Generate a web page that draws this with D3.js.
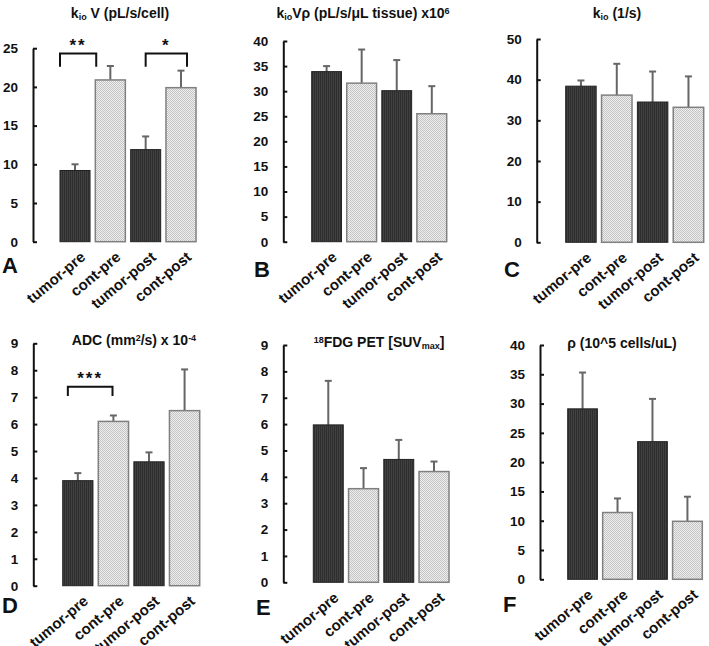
<!DOCTYPE html>
<html lang="en">
<head>
<meta charset="utf-8">
<title>Panels A-F</title>
<script src="https://cdn.jsdelivr.net/npm/d3@7"></script>
<style>
  body { margin: 0; background: #fff; }
  svg text { font-family: "Liberation Sans", Arial, sans-serif; font-weight: bold; fill: #111; }
  .axis path, .axis line { stroke: #111; stroke-width: 2; }
  .axis text { font-size: 13.5px; }
  .xlab { font-size: 15px; }
  .title { font-size: 14px; }
  .letter { font-size: 22px; }
</style>
</head>
<body>
<svg id="fig" width="709" height="646"></svg>
<script>
// data
var categories = ["tumor-pre", "cont-pre", "tumor-post", "cont-post"];

var kioV      = [9.2, 20.9, 11.9, 19.9];
var kioVErr   = [0.8, 1.8, 1.7, 2.2];
var kioVrho   = [33.9, 31.6, 30.1, 25.5];
var kioVrhoErr= [1.1, 6.7, 6.1, 5.5];
var kio       = [38.4, 36.2, 34.5, 33.2];
var kioErr    = [1.4, 7.7, 7.5, 7.6];
var adc       = [3.9, 6.1, 4.6, 6.5];
var adcErr    = [0.28, 0.22, 0.35, 1.53];
var fdg       = [5.97, 3.55, 4.66, 4.2];
var fdgErr    = [1.67, 0.78, 0.74, 0.38];
var rho       = [29.1, 11.4, 23.5, 9.9];
var rhoErr    = [6.2, 2.4, 7.3, 4.2];

var yTicksA = [0, 5, 10, 15, 20, 25];
var yTicksB = [0, 5, 10, 15, 20, 25, 30, 35, 40];
var yTicksC = [0, 10, 20, 30, 40, 50];
var yTicksD = [0, 1, 2, 3, 4, 5, 6, 7, 8, 9];
var yTicksE = [0, 1, 2, 3, 4, 5, 6, 7, 8, 9];
var yTicksF = [0, 5, 10, 15, 20, 25, 30, 35, 40];

var svg = d3.select("#fig");

// bar fills
var defs = svg.append("defs");
var pd = defs.append("pattern").attr("id", "dark").attr("width", 2).attr("height", 2).attr("patternUnits", "userSpaceOnUse");
pd.append("rect").attr("width", 2).attr("height", 2).attr("fill", "#414141");
pd.append("rect").attr("width", 1).attr("height", 2).attr("fill", "#2e2e2e");
var pl = defs.append("pattern").attr("id", "light").attr("width", 2).attr("height", 2).attr("patternUnits", "userSpaceOnUse");
pl.append("rect").attr("width", 2).attr("height", 2).attr("fill", "#eeeeee");
pl.append("rect").attr("width", 1).attr("height", 1).attr("fill", "#c4c4c4");
pl.append("rect").attr("x", 1).attr("y", 1).attr("width", 1).attr("height", 1).attr("fill", "#c4c4c4");

function panel(cfg) {
  var g = svg.append("g");
  var x = d3.scaleBand().domain(categories).range(cfg.bars).paddingInner(0.15).paddingOuter(0);
  var y = d3.scaleLinear().domain([0, cfg.ticks[cfg.ticks.length - 1]]).range([cfg.y0, cfg.y1]);
  var rows = categories.map(function(c, i) { return { cat: c, v: cfg.vals[i], e: cfg.errs[i], i: i }; });

  // error bars (upper only) behind bars
  g.selectAll(".err").data(rows).enter().append("line")
    .attr("x1", function(d) { return x(d.cat) + x.bandwidth() / 2; })
    .attr("x2", function(d) { return x(d.cat) + x.bandwidth() / 2; })
    .attr("y1", function(d) { return y(d.v); })
    .attr("y2", function(d) { return y(d.v + d.e); })
    .attr("stroke", "#666").attr("stroke-width", 2);
  g.selectAll(".cap").data(rows).enter().append("line")
    .attr("x1", function(d) { return x(d.cat) + x.bandwidth() / 2 - 3.5; })
    .attr("x2", function(d) { return x(d.cat) + x.bandwidth() / 2 + 3.5; })
    .attr("y1", function(d) { return y(d.v + d.e); })
    .attr("y2", function(d) { return y(d.v + d.e); })
    .attr("stroke", "#666").attr("stroke-width", 2);

  g.selectAll(".bar").data(rows).enter().append("rect")
    .attr("x", function(d) { return x(d.cat); })
    .attr("y", function(d) { return y(d.v); })
    .attr("width", x.bandwidth())
    .attr("height", function(d) { return y(0) - y(d.v); })
    .attr("fill", function(d) { return d.i % 2 ? "url(#light)" : "url(#dark)"; })
    .attr("stroke", function(d) { return d.i % 2 ? "#808080" : "#222"; })
    .attr("stroke-width", function(d) { return d.i % 2 ? 1.5 : 1; });

  g.append("g").attr("class", "axis")
    .attr("transform", "translate(" + cfg.ax + ",0)")
    .call(d3.axisLeft(y).tickValues(cfg.ticks).tickSizeInner(-4).tickSizeOuter(0).tickPadding(15));
  g.select(".axis .domain").attr("stroke-width", 2.2);

  g.selectAll(".xlab").data(rows).enter().append("text")
    .attr("class", "xlab")
    .attr("text-anchor", "end")
    .attr("transform", function(d) {
      return "translate(" + (x(d.cat) + x.bandwidth() / 2 + 8) + "," + (cfg.y0 + 13) + ") rotate(-40)";
    })
    .attr("dy", "0.35em")
    .text(function(d) { return d.cat; });

  (cfg.brackets || []).forEach(function(b) {
    var xa = x(categories[b.a]) + x.bandwidth() * b.oa;
    var xb = x(categories[b.b]) + x.bandwidth() * b.ob;
    g.append("path")
      .attr("d", "M" + xa + "," + y(b.low) + "V" + y(b.high) + "H" + xb + "V" + y(b.low))
      .attr("fill", "none").attr("stroke", "#111").attr("stroke-width", 2);
    g.append("text").attr("x", (xa + xb) / 2).attr("y", y(b.high) - 3)
      .attr("text-anchor", "middle").style("font-size", "17px").style("letter-spacing", "2px")
      .text(b.label);
  });

  var t = g.append("text").attr("class", "title").attr("x", cfg.tx).attr("y", cfg.ty).attr("text-anchor", "middle");
  cfg.title.forEach(function(p) {
    var s = t.append("tspan").text(p[0]);
    if (p[1] === "sub") s.attr("baseline-shift", "-25%").style("font-size", "9px");
    if (p[1] === "sup") s.attr("baseline-shift", "40%").style("font-size", "9px");
  });

  g.append("text").attr("class", "letter").attr("x", cfg.lx).attr("y", cfg.ly).text(cfg.letter);
}

panel({ vals: kioV, errs: kioVErr, ticks: yTicksA, ax: 33, y0: 241.7, y1: 48.2, bars: [60, 196],
  title: [["k"], ["io", "sub"], [" V (pL/s/cell)"]], tx: 120, ty: 18, letter: "A", lx: 2, ly: 273,
  brackets: [{ a: 0, b: 1, oa: 0, ob: 0.03, low: 22.6, high: 24.3, label: "**" },
             { a: 2, b: 3, oa: 0.5, ob: 0.7, low: 22.6, high: 24.3, label: "*" }] });
panel({ vals: kioVrho, errs: kioVrhoErr, ticks: yTicksB, ax: 283.3, y0: 241.7, y1: 41, bars: [311.7, 446.7],
  title: [["k"], ["io", "sub"], ["V\u03c1 (pL/s/\u03bcL tissue) x10"], ["6", "sup"]], tx: 363, ty: 18, letter: "B", lx: 254, ly: 277 });
panel({ vals: kio, errs: kioErr, ticks: yTicksC, ax: 536.7, y0: 242.3, y1: 39, bars: [565.7, 703.7],
  title: [["k"], ["io", "sub"], [" (1/s)"]], tx: 617, ty: 18, letter: "C", lx: 504, ly: 277 });
panel({ vals: adc, errs: adcErr, ticks: yTicksD, ax: 33.3, y0: 585.7, y1: 343.3, bars: [62.7, 199.7],
  title: [["ADC (mm"], ["2", "sup"], ["/s) x 10"], ["-4", "sup"]], tx: 134, ty: 345, letter: "D", lx: 2, ly: 613,
  brackets: [{ a: 0, b: 1, oa: 0.17, ob: 0.47, low: 7.04, high: 7.39, label: "***" }] });
panel({ vals: fdg, errs: fdgErr, ticks: yTicksE, ax: 283.3, y0: 582.3, y1: 345, bars: [313.3, 449],
  title: [["18", "sup"], ["FDG PET [SUV"], ["max", "sub"], ["]"]], tx: 379, ty: 347, letter: "E", lx: 256, ly: 615 });
panel({ vals: rho, errs: rhoErr, ticks: yTicksF, ax: 540, y0: 579.3, y1: 345, bars: [567.7, 702.3],
  title: [["\u03c1 (10^5 cells/uL)"]], tx: 622, ty: 348, letter: "F", lx: 503, ly: 612 });
</script>
</body>
</html>
